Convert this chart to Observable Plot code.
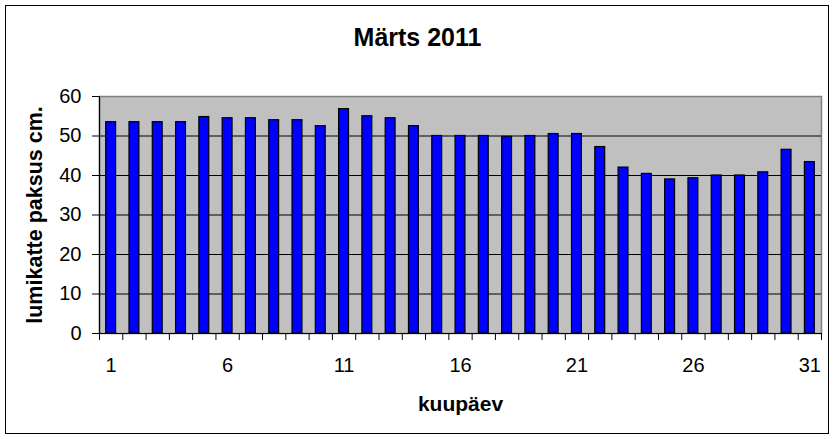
<!DOCTYPE html>
<html>
<head>
<meta charset="utf-8">
<script src="https://cdn.jsdelivr.net/npm/d3@7"></script>
<script src="https://cdn.jsdelivr.net/npm/@observablehq/plot@0.6"></script>
<style>
  html, body { margin: 0; padding: 0; background: #fff; }
  #wrap { position: relative; width: 835px; height: 439px; overflow: hidden; background: #fff; }
  #border { position: absolute; left: 5px; top: 5px; width: 824px; height: 429px; border: 1.5px solid #000; box-sizing: border-box; pointer-events: none; }
  #wrap svg { position: absolute; left: 0; top: 0; font-family: "Liberation Sans", Arial, sans-serif; }
</style>
</head>
<body>
<div id="wrap"><div id="border"></div></div>
<script>
const title = "Märts 2011";
const xTitle = "kuupäev";
const yTitle = "lumikatte paksus cm.";
const days = [1,2,3,4,5,6,7,8,9,10,11,12,13,14,15,16,17,18,19,20,21,22,23,24,25,26,27,28,29,30,31];
const values = [53.5,53.5,53.5,53.5,54.8,54.5,54.5,54,54,52.5,56.8,55,54.5,52.5,50,50,50,49.8,50,50.5,50.5,47.2,42,40.4,39,39.3,40,40,40.8,46.5,43.4];
const xTickLabels = [1,6,11,16,21,26,31];
const yTicks = [0,10,20,30,40,50,60];
const gridValues = [10,20,30,40,50];

const data = days.map((d, i) => ({day: d, value: values[i]}));
const boundaries = [0, ...days].map(d => d + 0.5);

const chart = Plot.plot({
  width: 835,
  height: 439,
  marginLeft: 99,
  marginRight: 14,
  marginTop: 96,
  marginBottom: 106,
  style: {fontFamily: "Liberation Sans, Arial, sans-serif", fontSize: "20px", color: "#000", background: "transparent"},
  x: {type: "linear", domain: [0.5, 31.5]},
  y: {domain: [0, 60]},
  marks: [
    Plot.frame({fill: "#c0c0c0", stroke: "#808080", strokeWidth: 1.5}),
    Plot.ruleY(gridValues, {stroke: "#000", strokeWidth: 1}),
    Plot.rectY(data, {
      x1: d => d.day - 0.5, x2: d => d.day + 0.5, y: "value",
      insetLeft: 6.7, insetRight: 6.7,
      fill: "#0000ff", stroke: "#000", strokeWidth: 1.2
    }),
    Plot.ruleX([0.5], {stroke: "#000", strokeWidth: 1.2}),
    Plot.ruleY([0], {stroke: "#000", strokeWidth: 1.2}),
    Plot.axisY(yTicks, {tickSize: 7, tickPadding: 11, label: null, fontSize: 20, stroke: "#000"}),
    Plot.axisX(boundaries, {tickSize: 7, tickFormat: () => "", label: null, stroke: "#000"}),
    Plot.axisX(xTickLabels, {tickSize: 0, tickPadding: 24, label: null, fontSize: 20}),
    Plot.text([title], {frameAnchor: "top", textAnchor: "middle", lineAnchor: "middle", dx: -43, dy: -59, fontSize: 25, fontWeight: "bold", fill: "#000"}),
    Plot.text([xTitle], {frameAnchor: "bottom", textAnchor: "middle", lineAnchor: "middle", dy: 71, fontSize: 21, fontWeight: "bold", fill: "#000"}),
    Plot.text([yTitle], {frameAnchor: "left", textAnchor: "middle", lineAnchor: "middle", dx: -64, rotate: -90, fontSize: 21.5, fontWeight: "bold", fill: "#000"})
  ]
});
document.getElementById("wrap").insertBefore(chart, document.getElementById("border"));
</script>
</body>
</html>
